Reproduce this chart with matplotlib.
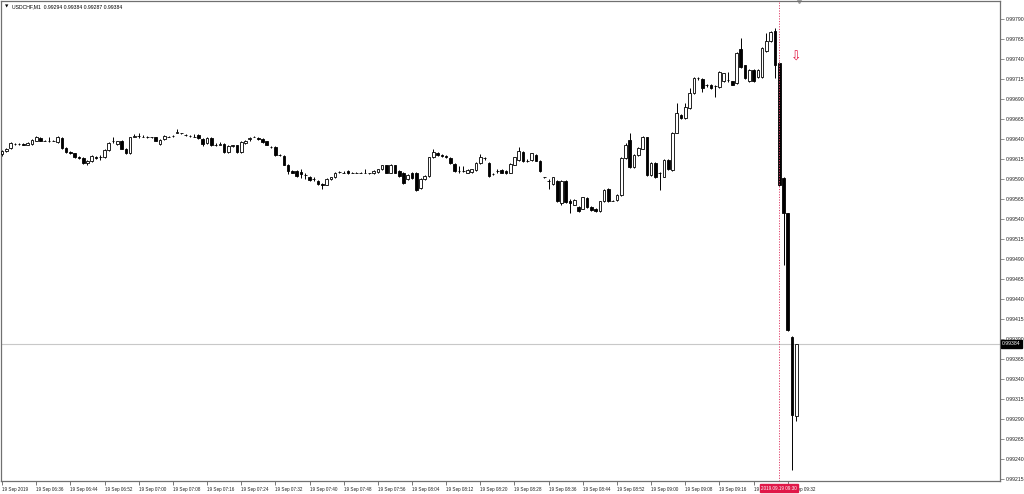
import numpy as np
import matplotlib
matplotlib.use("Agg")
import matplotlib.pyplot as plt

# USDCHF M1, 19 Sep 2019, 06:28 .. 09:34 (one bar per minute), prices in points (1e-5)
opens = [
    99621, 99625, 99629, 99634, 99634, 99634, 99633, 99634, 99638, 99641,
    99638, 99638, 99638, 99636, 99641, 99629, 99624, 99622, 99618, 99616,
    99610, 99612, 99618, 99617, 99617, 99626, 99637, 99634, 99638, 99628,
    99622, 99643, 99644, 99643, 99643, 99642, 99642, 99634, 99640, 99643,
    99644, 99648, 99647, 99645, 99644, 99643, 99645, 99640, 99635, 99641,
    99633, 99633, 99634, 99624, 99631, 99632, 99624, 99635, 99640, 99643,
    99641, 99640, 99637, 99630, 99630, 99620, 99619, 99608, 99600, 99600,
    99599, 99595, 99593, 99590, 99588, 99584, 99583, 99590, 99592, 99599,
    99598, 99600, 99598, 99598, 99598, 99598, 99597, 99597, 99599, 99602,
    99607, 99598, 99607, 99600, 99598, 99590, 99598, 99598, 99579, 99590,
    99594, 99617, 99623, 99620, 99619, 99616, 99609, 99600, 99600, 99598,
    99599, 99601, 99610, 99616, 99610, 99596, 99600, 99601, 99600, 99598,
    99608, 99614, 99624, 99613, 99614, 99620, 99613, 99592, 99588, 99584,
    99588, 99560, 99588, 99562, 99558, 99555, 99553, 99566, 99555, 99553,
    99550, 99562, 99577, 99563, 99564, 99570, 99616, 99639, 99605, 99620,
    99628, 99642, 99595, 99610, 99597, 99593, 99614, 99601, 99648, 99670,
    99666, 99679, 99697, 99716, 99715, 99707, 99708, 99706, 99705, 99712,
    99714, 99712, 99710, 99753, 99732, 99712, 99726, 99717, 99718, 99750,
    99762, 99775, 99735, 99591, 99547, 99393, 99294,
]
highs = [
    99626, 99629, 99636, 99635, 99635, 99635, 99636, 99640, 99644, 99642,
    99639, 99643, 99639, 99644, 99642, 99630, 99625, 99623, 99619, 99617,
    99614, 99620, 99619, 99620, 99627, 99636, 99642, 99638, 99639, 99629,
    99643, 99646, 99647, 99645, 99644, 99643, 99643, 99640, 99645, 99644,
    99645, 99652, 99648, 99646, 99645, 99646, 99646, 99641, 99642, 99642,
    99635, 99636, 99635, 99632, 99633, 99633, 99637, 99639, 99643, 99644,
    99642, 99641, 99638, 99631, 99631, 99621, 99620, 99609, 99601, 99601,
    99603, 99598, 99594, 99592, 99589, 99585, 99591, 99593, 99599, 99600,
    99600, 99601, 99599, 99599, 99599, 99602, 99598, 99601, 99603, 99608,
    99608, 99609, 99608, 99601, 99599, 99596, 99599, 99599, 99591, 99595,
    99618, 99628, 99624, 99621, 99620, 99617, 99610, 99606, 99606, 99602,
    99603, 99611, 99621, 99618, 99611, 99597, 99602, 99602, 99601, 99610,
    99618, 99630, 99625, 99615, 99623, 99621, 99614, 99593, 99590, 99593,
    99589, 99589, 99589, 99565, 99565, 99556, 99568, 99567, 99556, 99554,
    99563, 99577, 99579, 99564, 99571, 99617, 99635, 99648, 99621, 99630,
    99644, 99643, 99611, 99611, 99599, 99615, 99615, 99649, 99685, 99671,
    99685, 99704, 99717, 99718, 99716, 99709, 99709, 99708, 99725, 99723,
    99724, 99713, 99749, 99766, 99733, 99727, 99727, 99727, 99755, 99773,
    99775, 99779, 99736, 99592, 99548, 99394, 99384,
]
lows = [
    99619, 99624, 99628, 99633, 99633, 99632, 99633, 99633, 99637, 99637,
    99637, 99636, 99637, 99635, 99628, 99623, 99621, 99616, 99615, 99609,
    99608, 99611, 99615, 99614, 99616, 99625, 99635, 99632, 99627, 99621,
    99621, 99642, 99641, 99642, 99641, 99641, 99637, 99633, 99639, 99642,
    99643, 99647, 99646, 99644, 99643, 99642, 99640, 99631, 99634, 99631,
    99631, 99632, 99623, 99623, 99630, 99623, 99622, 99634, 99638, 99642,
    99639, 99635, 99632, 99629, 99619, 99619, 99607, 99596, 99597, 99593,
    99591, 99590, 99588, 99587, 99583, 99578, 99582, 99589, 99591, 99598,
    99597, 99596, 99597, 99597, 99597, 99597, 99596, 99596, 99598, 99601,
    99597, 99597, 99597, 99593, 99584, 99589, 99590, 99575, 99578, 99589,
    99593, 99616, 99619, 99618, 99616, 99609, 99599, 99598, 99599, 99597,
    99598, 99600, 99609, 99614, 99593, 99595, 99598, 99597, 99596, 99597,
    99607, 99613, 99611, 99611, 99613, 99612, 99599, 99591, 99578, 99583,
    99561, 99558, 99560, 99548, 99557, 99549, 99552, 99554, 99550, 99549,
    99549, 99561, 99561, 99562, 99563, 99569, 99615, 99604, 99604, 99619,
    99627, 99594, 99594, 99591, 99576, 99592, 99601, 99600, 99647, 99665,
    99665, 99678, 99696, 99714, 99699, 99705, 99703, 99692, 99704, 99711,
    99711, 99707, 99709, 99729, 99715, 99711, 99711, 99716, 99716, 99749,
    99761, 99716, 99581, 99482, 99400, 99226, 99287,
]
closes = [
    99625, 99628, 99635, 99634, 99634, 99633, 99635, 99639, 99643, 99638,
    99638, 99638, 99638, 99642, 99629, 99624, 99622, 99617, 99616, 99610,
    99613, 99619, 99616, 99617, 99626, 99635, 99637, 99637, 99628, 99622,
    99642, 99644, 99644, 99643, 99642, 99642, 99638, 99639, 99644, 99643,
    99644, 99649, 99647, 99645, 99644, 99643, 99641, 99634, 99641, 99632,
    99633, 99634, 99624, 99631, 99632, 99624, 99636, 99638, 99641, 99643,
    99640, 99636, 99633, 99630, 99620, 99620, 99608, 99600, 99598, 99594,
    99596, 99595, 99589, 99590, 99584, 99583, 99590, 99592, 99598, 99599,
    99598, 99597, 99598, 99598, 99598, 99598, 99597, 99600, 99602, 99607,
    99598, 99608, 99598, 99594, 99585, 99595, 99591, 99576, 99590, 99594,
    99617, 99624, 99620, 99619, 99617, 99610, 99600, 99600, 99600, 99601,
    99602, 99610, 99618, 99616, 99594, 99596, 99600, 99598, 99597, 99609,
    99617, 99625, 99612, 99613, 99622, 99613, 99600, 99592, 99588, 99592,
    99562, 99588, 99561, 99560, 99564, 99550, 99567, 99555, 99551, 99550,
    99562, 99576, 99562, 99563, 99570, 99616, 99632, 99605, 99620, 99629,
    99643, 99595, 99610, 99592, 99598, 99614, 99602, 99648, 99673, 99666,
    99680, 99697, 99716, 99716, 99704, 99707, 99704, 99706, 99724, 99722,
    99714, 99708, 99748, 99730, 99716, 99726, 99712, 99726, 99754, 99763,
    99774, 99732, 99582, 99547, 99401, 99295, 99384,
]

symbol = "USDCHF,M1"
x_labels = ["19 Sep 2019", "19 Sep 06:36", "19 Sep 06:44", "19 Sep 06:52",
            "19 Sep 07:00", "19 Sep 07:08", "19 Sep 07:16", "19 Sep 07:24",
            "19 Sep 07:32", "19 Sep 07:40", "19 Sep 07:48", "19 Sep 07:56",
            "19 Sep 08:04", "19 Sep 08:12", "19 Sep 08:20", "19 Sep 08:28",
            "19 Sep 08:36", "19 Sep 08:44", "19 Sep 08:52", "19 Sep 09:00",
            "19 Sep 09:08", "19 Sep 09:16", "19 Sep 09:24", "19 Sep 09:32"]
y_ticks = [0.99215, 0.99240, 0.99265, 0.99290, 0.99315, 0.99340, 0.99365,
           0.99390, 0.99415, 0.99440, 0.99465, 0.99490, 0.99515, 0.99540,
           0.99565, 0.99590, 0.99615, 0.99640, 0.99665, 0.99690, 0.99715,
           0.99740, 0.99765, 0.99790]
marked_bar = 182          # 09:30 vertical line
marked_label = "2019.09.19 09:30"
arrow_price = 0.99742

o = np.array(opens) / 1e5
h = np.array(highs) / 1e5
l = np.array(lows) / 1e5
c = np.array(closes) / 1e5
idx = np.arange(len(o))
last = c[-1]

plt.rcParams['font.family'] = ['Liberation Sans', 'DejaVu Sans']
fs_x = 3.3
fs_y = 3.7

fig = plt.figure(figsize=(10.24, 4.94), dpi=100, facecolor='white')
ax = fig.add_axes([1 / 1024, 13 / 494, 999 / 1024, 480 / 494])
ax.set_facecolor('white')

# wicks
ax.vlines(idx, l, h, color='black', lw=0.7, zorder=2)

# bodies
up = c >= o
bottoms = np.minimum(o, c)
heights = np.maximum(np.abs(c - o), 0.0000001)
ax.bar(idx[up], heights[up], bottom=bottoms[up], width=0.62,
       facecolor='white', edgecolor='black', linewidth=0.6, zorder=3)
ax.bar(idx[~up], heights[~up], bottom=bottoms[~up], width=0.62,
       facecolor='black', edgecolor='black', linewidth=0.6, zorder=3)

# current price line + marked bar
ax.axhline(last, color='#c8c8c8', lw=0.8, zorder=1)
ax.axvline(marked_bar, color='#e0406a', lw=0.7, ls=(0, (1.2, 1.5)), zorder=4)

# sell arrow and shift marker
ax.text(186, arrow_price, '\u21e9', color='#e0103c', fontsize=9,
        ha='center', va='center', zorder=5, family='DejaVu Sans')
ax.plot([186.6], [1.0], marker='v', color='#a0a0a0', markersize=3,
        transform=ax.get_xaxis_transform(), clip_on=False)

ax.set_xlim(-0.25, 233.7)
ax.set_ylim(0.992125, 0.998125)

# right price scale
ax.yaxis.tick_right()
ax.set_yticks(y_ticks)
ax.set_yticklabels(["%.5f" % v for v in y_ticks])
ax.tick_params(axis='y', length=3, width=0.6, color='#808080', labelsize=fs_y,
               pad=1.5, labelcolor='#202020')

# bottom time scale
ax.set_xticks(np.arange(0, 8 * len(x_labels), 8))
ax.set_xticklabels(x_labels)
for t in ax.get_xticklabels():
    t.set_ha('left')
ax.tick_params(axis='x', length=3, width=0.6, color='#606060', labelsize=fs_x,
               pad=1.5, labelcolor='#202020')

for s in ax.spines.values():
    s.set_color('#707070')
    s.set_linewidth(0.9)

# header
ax.text(0.004, 0.992, '\u25bc', transform=ax.transAxes, fontsize=3.2,
        va='top', ha='left', color='black', family='DejaVu Sans')
ax.text(0.011, 0.993, "%s  %.5f %.5f %.5f %.5f" % (symbol, o[-1], h[-1], l[-1], c[-1]),
        transform=ax.transAxes, fontsize=3.7, va='top', ha='left', color='black')

# price label on the scale
ax.annotate("%.5f" % last, xy=(1.0, last), xycoords=('axes fraction', 'data'),
            xytext=(1.5, 0), textcoords='offset points', fontsize=fs_y,
            color='white', va='center', ha='left', annotation_clip=False,
            bbox=dict(boxstyle='square,pad=0.25', facecolor='black', edgecolor='black'),
            zorder=10)

# time label on the scale
ax.annotate(marked_label, xy=(marked_bar, 0.0), xycoords=('data', 'axes fraction'),
            xytext=(0, -5.2), textcoords='offset points', fontsize=fs_x,
            color='white', va='center', ha='center', annotation_clip=False,
            bbox=dict(boxstyle='square,pad=0.3', facecolor='#e01848', edgecolor='#e01848'),
            zorder=10)

fig.savefig('out.png', dpi=100, facecolor='white')
